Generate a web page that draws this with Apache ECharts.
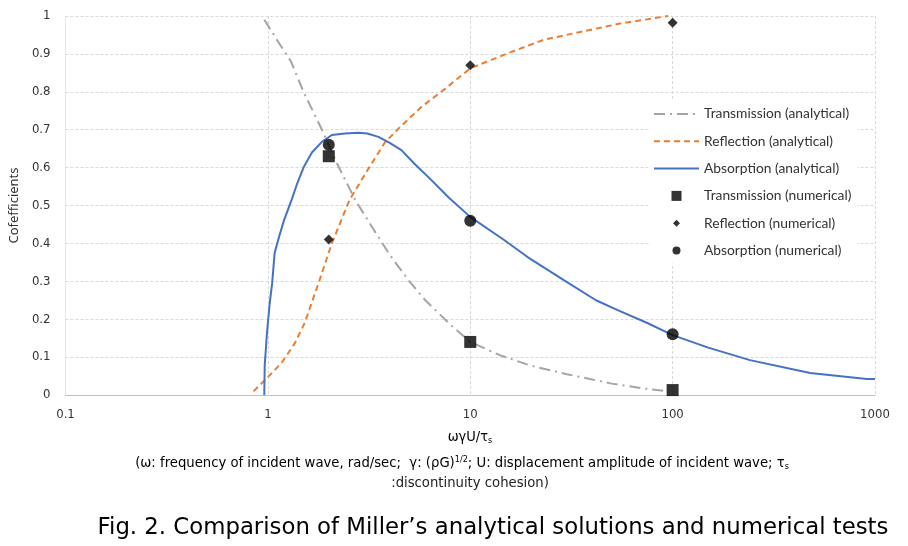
<!DOCTYPE html>
<html>
<head>
<meta charset="utf-8">
<script src="https://cdn.jsdelivr.net/npm/echarts@6/dist/echarts.min.js"></script>
<style>html,body{margin:0;padding:0;background:#fff;}#c{width:908px;height:546px;}</style>
</head>
<body>
<div id="c"></div>
<script>
// ---- data ----
var xTicks = [0.1, 1, 10, 100, 1000];
var yTicks = [0, 0.1, 0.2, 0.3, 0.4, 0.5, 0.6, 0.7, 0.8, 0.9, 1];

var transX = [0.96, 1.1, 1.3, 1.5, 1.85, 2.2, 2.7, 3.3, 4, 5, 6, 8, 10, 14, 20, 30, 50, 70, 95];
var transY = [0.99, 0.94, 0.88, 0.80, 0.70, 0.61, 0.515, 0.44, 0.37, 0.30, 0.25, 0.185, 0.14, 0.105, 0.077, 0.055, 0.03, 0.018, 0.01];

var reflX = [0.85, 0.97, 1.17, 1.36, 1.52, 1.78, 2.07, 2.53, 3, 3.77, 4.5, 5.73, 7.6, 10, 15.4, 23, 35, 55, 95];
var reflY = [0.01, 0.04, 0.085, 0.137, 0.19, 0.295, 0.40, 0.514, 0.58, 0.665, 0.707, 0.76, 0.81, 0.862, 0.902, 0.937, 0.958, 0.98, 1.0];

var absX = [0.96, 0.965, 0.98, 0.99, 1.02, 1.05, 1.08, 1.14, 1.2, 1.31, 1.4, 1.5, 1.65, 1.85, 2.07, 2.4, 2.8, 3.1, 3.52, 4, 4.57, 5.3, 6.43, 7.87, 10, 14.7, 19.2, 29, 41.8, 53.5, 75, 100, 150, 241, 478, 912, 1000];
var absY = [0, 0.08, 0.13, 0.164, 0.24, 0.295, 0.375, 0.42, 0.46, 0.515, 0.56, 0.60, 0.64, 0.668, 0.686, 0.69, 0.692, 0.69, 0.681, 0.665, 0.646, 0.61, 0.567, 0.52, 0.47, 0.409, 0.364, 0.303, 0.25, 0.224, 0.19, 0.158, 0.125, 0.092, 0.058, 0.042, 0.042];

var numX = [2, 10, 100];
var transNum = [0.63, 0.14, 0.013];
var reflNum = [0.41, 0.87, 0.982];
var absNum = [0.66, 0.46, 0.16];

var names = ['Transmission (analytical)', 'Reflection (analytical)', 'Absorption (analytical)',
             'Transmission (numerical)', 'Reflection (numerical)', 'Absorption (numerical)'];

function pairs(xs, ys) { return xs.map(function (x, i) { return [x, ys[i]]; }); }

var narrow = "'Liberation Sans Narrow', 'DejaVu Sans Condensed', sans-serif";

var chart = echarts.init(document.getElementById('c'));
chart.setOption({
  animation: false,
  backgroundColor: '#fff',
  grid: { left: 64, right: 33, top: 16, bottom: 151, containLabel: false },
  xAxis: {
    type: 'log', logBase: 10, min: 0.1, max: 1000,
    axisLine: { show: true, lineStyle: { color: '#bfbfbf', width: 1 } },
    axisTick: { show: false },
    minorTick: { show: false },
    splitLine: { show: true, lineStyle: { color: '#d9d9d9', type: [3, 2] } },
    axisLabel: {
      margin: 13, color: '#333', fontSize: 13, fontFamily: narrow,
      formatter: function (v) { var r = xTicks.filter(function (t) { return Math.abs(t - v) / t < 1e-6; }); return r.length ? String(r[0]) : ''; }
    }
  },
  yAxis: {
    type: 'value', min: 0, max: 1, interval: 0.1,
    name: 'Cofefficients', nameLocation: 'middle', nameGap: 37,
    nameTextStyle: { color: '#333', fontSize: 13, fontFamily: "'Noto Sans', sans-serif" },
    axisLine: { show: true, lineStyle: { color: '#e6e6e6' } },
    axisTick: { show: false },
    splitLine: { show: true, lineStyle: { color: '#d9d9d9', type: [3, 2] } },
    axisLabel: {
      margin: 15, color: '#333', fontSize: 13, fontFamily: narrow,
      formatter: function (v) { var r = yTicks.filter(function (t) { return Math.abs(t - v) < 1e-6; }); return r.length ? String(r[0]) : ''; }
    }
  },
  legend: {
    orient: 'vertical', left: 649, top: 101,
    backgroundColor: '#fff', padding: [6, 6, 6, 4],
    itemWidth: 45, itemHeight: 10, itemGap: 13.3,
    textStyle: { color: '#333', fontSize: 13.8, fontFamily: "Lato, sans-serif" },
    data: [
      { name: names[0], itemStyle: { opacity: 0 } },
      { name: names[1], itemStyle: { opacity: 0 } },
      { name: names[2], itemStyle: { opacity: 0 } },
      { name: names[3], icon: 'path://M0,0 L10,0 L10,10 L0,10 Z' },
      { name: names[4], icon: 'path://M0,0 M5,1.5 L8.5,5 L5,8.5 L1.5,5 Z M10,10' },
      { name: names[5], icon: 'path://M0,0 M5,1 A4,4 0 1 1 4.99,1 Z M10,10' }
    ]
  },
  series: [
    { name: names[0], type: 'line', data: pairs(transX, transY), showSymbol: false, symbol: 'none', smooth: false,
      lineStyle: { color: '#a5a5a5', width: 2, type: [11, 5, 2, 5] }, itemStyle: { color: '#a5a5a5' } },
    { name: names[1], type: 'line', data: pairs(reflX, reflY), showSymbol: false, symbol: 'none', smooth: false,
      lineStyle: { color: '#ed7d31', width: 2, type: [6, 4] }, itemStyle: { color: '#ed7d31' } },
    { name: names[2], type: 'line', data: pairs(absX, absY), showSymbol: false, symbol: 'none', smooth: false,
      lineStyle: { color: '#4472c4', width: 2 }, itemStyle: { color: '#4472c4' } },
    { name: names[3], type: 'scatter', data: pairs(numX, transNum), symbol: 'rect', symbolSize: 12, itemStyle: { color: '#000' }, z: 5 },
    { name: names[4], type: 'scatter', data: pairs(numX, reflNum), symbol: 'diamond', symbolSize: 10, itemStyle: { color: '#000' }, z: 5 },
    { name: names[5], type: 'scatter', data: pairs(numX, absNum), symbol: 'circle', symbolSize: 12, itemStyle: { color: '#000' }, z: 5 }
  ],
  graphic: [
    { type: 'text', x: 470, y: 430, style: { text: '{a|ωγU/τ}{s|s}', align: 'center',
        rich: { a: { fontSize: 14.5, fontFamily: narrow, color: '#222' }, s: { fontSize: 9, fontFamily: narrow, padding: [6, 0, 0, 0], color: '#222' } } } },
    { type: 'text', x: 462, y: 455, style: { text: '{a|(ω: frequency of incident wave, rad/sec;  γ: (ρG)}{p|1/2}{a|; U: displacement amplitude of incident wave; τ}{s|s}', align: 'center',
        rich: { a: { fontSize: 14.7, fontFamily: narrow, color: '#222' }, p: { fontSize: 9, fontFamily: narrow, padding: [0, 0, 8, 0], color: '#222' }, s: { fontSize: 9, fontFamily: narrow, padding: [6, 0, 0, 0], color: '#222' } } } },
    { type: 'text', x: 470, y: 476, style: { text: ':discontinuity cohesion)', align: 'center', fontSize: 14.7, fontFamily: narrow, fill: '#222' } },
    { type: 'text', x: 493, y: 517, style: { text: 'Fig. 2. Comparison of Miller’s analytical solutions and numerical tests', align: 'center', fontSize: 22.8, fontFamily: "'DejaVu Sans', sans-serif", fill: '#000' } }
  ]
});
</script>
</body>
</html>
